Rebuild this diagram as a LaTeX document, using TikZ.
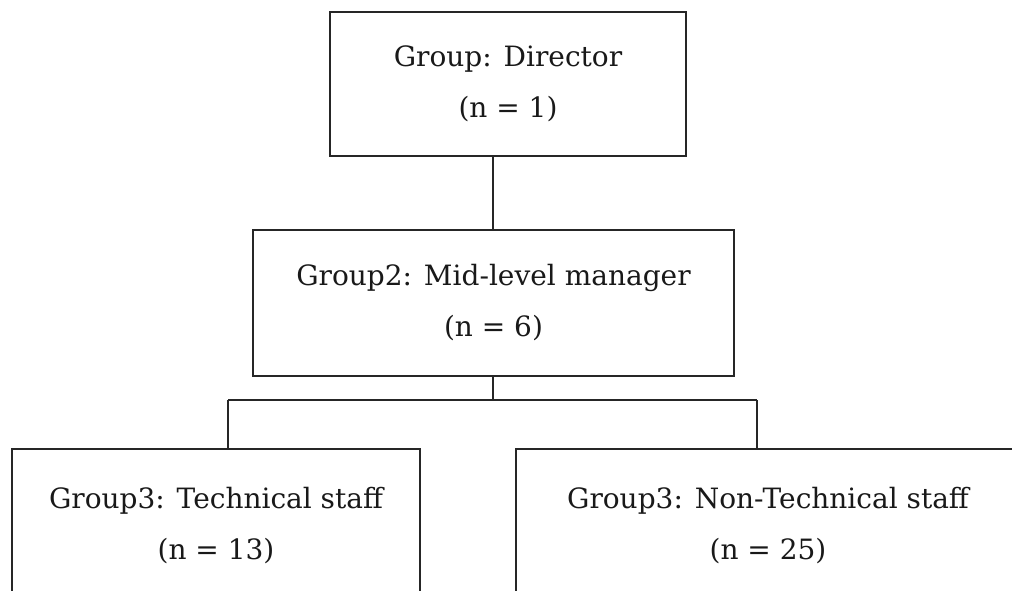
\documentclass[tikz,border=0pt]{standalone}
\usepackage{fontspec}
\setmainfont{DejaVu Serif}
\begin{document}
\begin{tikzpicture}[x=1pt,y=-1pt,
  box/.style={draw=black!85, line width=1.6pt, align=center, inner sep=0pt,
    font=\fontsize{28}{51}\selectfont, text=black!90},
  wire/.style={draw=black!85, line width=1.6pt}]
\useasboundingbox (0,0) rectangle (1012,590);
\clip (0,0) rectangle (1012,590);
\node[box, minimum width=356pt, minimum height=144pt] (dir) at (508,84) {Group: Director\\(n = 1)};
\node[box, minimum width=481pt, minimum height=146pt] (mid) at (493.5,303) {Group2: Mid-level manager\\(n = 6)};
\node[box, minimum width=408pt, minimum height=154pt] (tech) at (216,526) {Group3: Technical staff\\(n = 13)};
\node[box, minimum width=504pt, minimum height=154pt] (non) at (768,526) {Group3: Non-Technical staff\\(n = 25)};
\coordinate (bus) at (493,400);
\coordinate (busL) at (228,400);
\coordinate (busR) at (757,400);
\draw[wire] (dir.south -| bus) -- (mid.north -| bus);
\draw[wire] (mid.south -| bus) -- (bus);
\draw[wire] (busL) -- (busR);
\draw[wire] (busL) -- (busL |- tech.north);
\draw[wire] (busR) -- (busR |- non.north);
\end{tikzpicture}
\end{document}
